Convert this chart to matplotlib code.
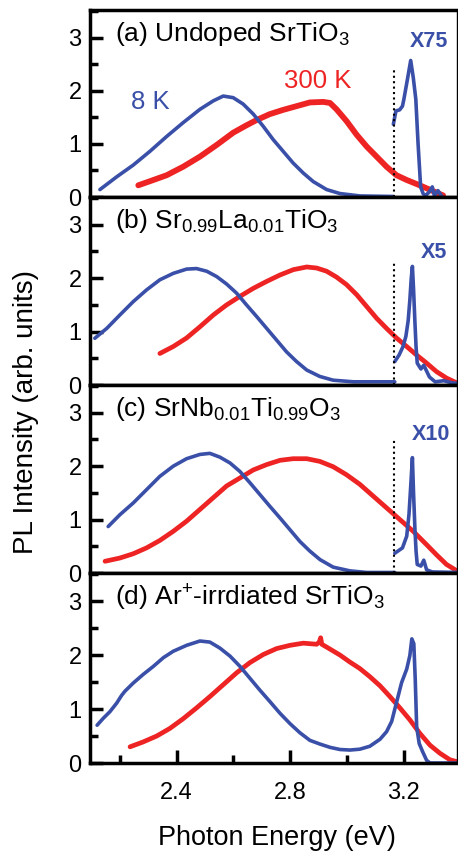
import matplotlib
matplotlib.use("Agg")
import matplotlib.pyplot as plt
from matplotlib.ticker import MultipleLocator

matplotlib.rcParams['font.family'] = ['Liberation Sans', 'DejaVu Sans']
matplotlib.rcParams['mathtext.default'] = 'regular'

BLUE = "#3a50a8"
RED = "#ee2424"

# (a) undoped SrTiO3
a_8k_x = [2.130, 2.189, 2.247, 2.306, 2.365, 2.423, 2.482, 2.529, 2.564, 2.599, 2.634,
          2.670, 2.705, 2.740, 2.775, 2.810, 2.846, 2.881, 2.928, 2.975, 3.045, 3.162]
a_8k_y = [0.14, 0.38, 0.60, 0.86, 1.14, 1.40, 1.65, 1.81, 1.90, 1.87, 1.75,
          1.56, 1.33, 1.08, 0.86, 0.64, 0.45, 0.29, 0.14, 0.065, 0.02, 0.01]
a_uv_x = [3.163, 3.172, 3.185, 3.195, 3.20, 3.212, 3.224, 3.233, 3.242, 3.250, 3.259, 3.268,
          3.277, 3.29, 3.30, 3.307, 3.32, 3.335]
a_uv_y = [1.37, 1.62, 1.64, 1.71, 1.84, 2.20, 2.57, 2.25, 1.84, 1.00, 0.19, 0.06,
          0.03, 0.10, 0.19, 0.03, 0.12, 0.0]
a_300k_x = [2.265, 2.318, 2.365, 2.423, 2.482, 2.541, 2.599, 2.646, 2.682, 2.728, 2.775,
            2.822, 2.869, 2.916, 2.940, 2.963, 2.998, 3.034, 3.069, 3.104, 3.139, 3.174,
            3.210, 3.256, 3.303, 3.338]
a_300k_y = [0.22, 0.32, 0.41, 0.57, 0.76, 0.98, 1.21, 1.35, 1.45, 1.56, 1.64,
            1.71, 1.78, 1.79, 1.77, 1.65, 1.43, 1.17, 0.95, 0.76, 0.57, 0.41,
            0.32, 0.22, 0.11, 0.03]
a_cut = 2.41

# (b) Sr0.99La0.01TiO3
b_8k_x = [2.112, 2.154, 2.200, 2.247, 2.294, 2.341, 2.388, 2.435, 2.470, 2.506, 2.541,
          2.576, 2.611, 2.646, 2.682, 2.717, 2.752, 2.787, 2.822, 2.858, 2.904, 2.951,
          3.022, 3.168]
b_8k_y = [0.875, 1.06, 1.31, 1.56, 1.78, 1.97, 2.09, 2.17, 2.18, 2.13, 2.03,
          1.89, 1.72, 1.50, 1.28, 1.06, 0.84, 0.62, 0.44, 0.28, 0.16, 0.09,
          0.06, 0.06]
b_uv_x = [3.168, 3.183, 3.197, 3.207, 3.215, 3.221, 3.226, 3.23, 3.234, 3.239, 3.243, 3.247,
          3.26, 3.27, 3.29, 3.31, 3.34, 3.37, 3.39]
b_uv_y = [0.44, 0.56, 0.72, 0.91, 1.20, 1.59, 2.00, 2.22, 1.80, 1.16, 0.70, 0.41,
          0.30, 0.37, 0.15, 0.06, 0.08, 0.04, 0.03]
b_300k_x = [2.341, 2.388, 2.435, 2.482, 2.529, 2.576, 2.623, 2.670, 2.717, 2.764, 2.811,
            2.858, 2.893, 2.928, 2.963, 2.998, 3.034, 3.069, 3.104, 3.139, 3.174, 3.210,
            3.245, 3.280, 3.315, 3.350, 3.390]
b_300k_y = [0.59, 0.72, 0.88, 1.09, 1.31, 1.50, 1.66, 1.81, 1.94, 2.06, 2.16,
            2.21, 2.19, 2.13, 2.02, 1.88, 1.69, 1.47, 1.25, 1.06, 0.88, 0.72,
            0.56, 0.41, 0.25, 0.13, 0.03]
b_cut = 2.31

# (c) SrNb0.01Ti0.99O3
c_8k_x = [2.159, 2.200, 2.247, 2.294, 2.341, 2.388, 2.435, 2.482, 2.517, 2.552, 2.588,
          2.623, 2.658, 2.693, 2.728, 2.764, 2.799, 2.834, 2.869, 2.905, 2.951, 3.010,
          3.069, 3.168]
c_8k_y = [0.87, 1.09, 1.31, 1.56, 1.81, 2.00, 2.14, 2.22, 2.24, 2.17, 2.06,
          1.90, 1.69, 1.47, 1.25, 1.03, 0.81, 0.59, 0.41, 0.25, 0.11, 0.04,
          0.01, 0.01]
c_uv_x = [3.168, 3.195, 3.21, 3.218, 3.224, 3.23, 3.234, 3.239, 3.243, 3.247, 3.26, 3.27,
          3.28, 3.30, 3.39]
c_uv_y = [0.37, 0.47, 0.69, 1.10, 1.62, 2.16, 1.50, 0.81, 0.40, 0.16, 0.13, 0.24,
          0.06, 0.02, 0.01]
c_300k_x = [2.148, 2.200, 2.247, 2.294, 2.341, 2.388, 2.435, 2.482, 2.529, 2.576, 2.623,
            2.670, 2.717, 2.764, 2.810, 2.858, 2.904, 2.951, 2.998, 3.045, 3.092, 3.139,
            3.186, 3.233, 3.280, 3.315, 3.350, 3.390]
c_300k_y = [0.22, 0.28, 0.36, 0.47, 0.61, 0.78, 0.97, 1.19, 1.41, 1.63, 1.78,
            1.93, 2.03, 2.11, 2.14, 2.14, 2.09, 1.99, 1.84, 1.66, 1.44, 1.22,
            1.00, 0.78, 0.53, 0.34, 0.16, 0.03]
c_cut = 2.51

# (d) Ar+-irradiated SrTiO3
d_8k_x = [2.120, 2.142, 2.165, 2.189, 2.206, 2.218, 2.247, 2.282, 2.318, 2.353, 2.388,
          2.435, 2.482, 2.517, 2.552, 2.588, 2.623, 2.658, 2.693, 2.728, 2.764, 2.799,
          2.834, 2.869, 2.905, 2.940, 2.975, 3.010, 3.045, 3.080, 3.116, 3.139, 3.157,
          3.174, 3.192, 3.210, 3.221, 3.228, 3.235, 3.240, 3.245, 3.254, 3.266, 3.280,
          3.292, 3.390]
d_8k_y = [0.70, 0.83, 0.95, 1.11, 1.25, 1.33, 1.48, 1.64, 1.79, 1.95, 2.07,
          2.18, 2.26, 2.24, 2.13, 1.98, 1.79, 1.57, 1.35, 1.14, 0.92, 0.73,
          0.56, 0.42, 0.35, 0.29, 0.25, 0.24, 0.256, 0.31, 0.44, 0.58, 0.77,
          1.12, 1.49, 1.74, 1.99, 2.30, 2.21, 1.55, 0.67, 0.36, 0.21, 0.05,
          0.0, 0.0]
d_300k_x = [2.236, 2.282, 2.330, 2.376, 2.423, 2.470, 2.517, 2.564, 2.611, 2.658, 2.705,
            2.752, 2.799, 2.846, 2.893, 2.902, 2.907, 2.911, 2.940, 2.975, 3.010, 3.045,
            3.080, 3.116, 3.151, 3.186, 3.221, 3.256, 3.292, 3.327, 3.362, 3.390]
d_300k_y = [0.30, 0.39, 0.50, 0.64, 0.82, 1.02, 1.23, 1.45, 1.67, 1.86, 2.01,
            2.12, 2.18, 2.22, 2.20, 2.24, 2.32, 2.20, 2.11, 2.00, 1.87, 1.75,
            1.60, 1.43, 1.23, 1.02, 0.80, 0.55, 0.33, 0.18, 0.06, 0.02]

titles = [r"(a) Undoped SrTiO$_3$",
          r"(b) Sr$_{0.99}$La$_{0.01}$TiO$_3$",
          r"(c) SrNb$_{0.01}$Ti$_{0.99}$O$_3$",
          r"(d) Ar$^{+}$-irrdiated SrTiO$_3$"]
factors = ["X75", "X5", "X10", None]
factor_pos = [(3.287, 2.93), (3.305, 2.48), (3.294, 2.60), None]

panels = [
    (a_8k_x, a_8k_y, a_uv_x, a_uv_y, a_300k_x, a_300k_y, a_cut),
    (b_8k_x, b_8k_y, b_uv_x, b_uv_y, b_300k_x, b_300k_y, b_cut),
    (c_8k_x, c_8k_y, c_uv_x, c_uv_y, c_300k_x, c_300k_y, c_cut),
    (d_8k_x, d_8k_y, None, None, d_300k_x, d_300k_y, None),
]

fig = plt.figure(figsize=(4.58, 8.56), dpi=100)
W, H = 458.0, 856.0
left, right = 90 / W, 457 / W
edges = [10, 197, 385, 573, 763]

for i, (x8, y8, xuv, yuv, x3, y3, cut) in enumerate(panels):
    top, bot = edges[i], edges[i + 1]
    ax = fig.add_axes([left, 1 - bot / H, right - left, (bot - top) / H])
    ax.plot(x3, y3, color=RED, lw=4.2 if i == 0 else 3.4, solid_joinstyle='round',
            solid_capstyle='round')
    ax.plot(x8, y8, color=BLUE, lw=2.6, solid_joinstyle='round', solid_capstyle='round')
    if xuv is not None:
        ax.plot(xuv, yuv, color=BLUE, lw=2.6, solid_joinstyle='round', solid_capstyle='round')
    if cut is not None:
        ax.plot([3.165, 3.165], [0, cut], color='black', lw=1.5, ls=(0, (1, 1.6)))
    ax.set_xlim(2.095, 3.387)
    ax.set_ylim(0, 3.52)
    ax.yaxis.set_major_locator(MultipleLocator(1))
    ax.yaxis.set_minor_locator(MultipleLocator(0.5))
    ax.xaxis.set_major_locator(MultipleLocator(0.4))
    ax.xaxis.set_minor_locator(MultipleLocator(0.2))
    for s in ax.spines.values():
        s.set_linewidth(2.5)
    ax.spines['right'].set_linewidth(1.0)
    ax.tick_params(which='both', direction='in', width=2.5, labelsize=17,
                   top=False, right=False)
    ax.tick_params(axis='y', pad=6)
    ax.tick_params(axis='x', pad=14)
    ax.tick_params(which='major', length=9.5)
    ax.tick_params(which='minor', length=6)
    if i < 3:
        ax.tick_params(axis='x', which='both', bottom=False, labelbottom=False)
    ax.text(0.068, 0.87, titles[i], transform=ax.transAxes, fontsize=19,
            ha='left', va='center')
    if factors[i]:
        fx, fy = factor_pos[i]
        ax.text(fx, fy, factors[i], color=BLUE, fontsize=15.5,
                fontweight='bold', ha='center', va='center')
    if i == 0:
        ax.text(2.308, 1.78, "8 K", color=BLUE, fontsize=18.5, ha='center', va='center')
        ax.text(2.896, 2.18, "300 K", color=RED, fontsize=18.5, ha='center', va='center')

fig.text(26.5 / W, 1 - 412 / H, "PL Intensity (arb. units)", rotation=90,
         fontsize=20, ha='center', va='center')
fig.text(277 / W, 1 - 838 / H, "Photon Energy (eV)", fontsize=19.5,
         ha='center', va='center')

fig.savefig("out.png", dpi=100)
